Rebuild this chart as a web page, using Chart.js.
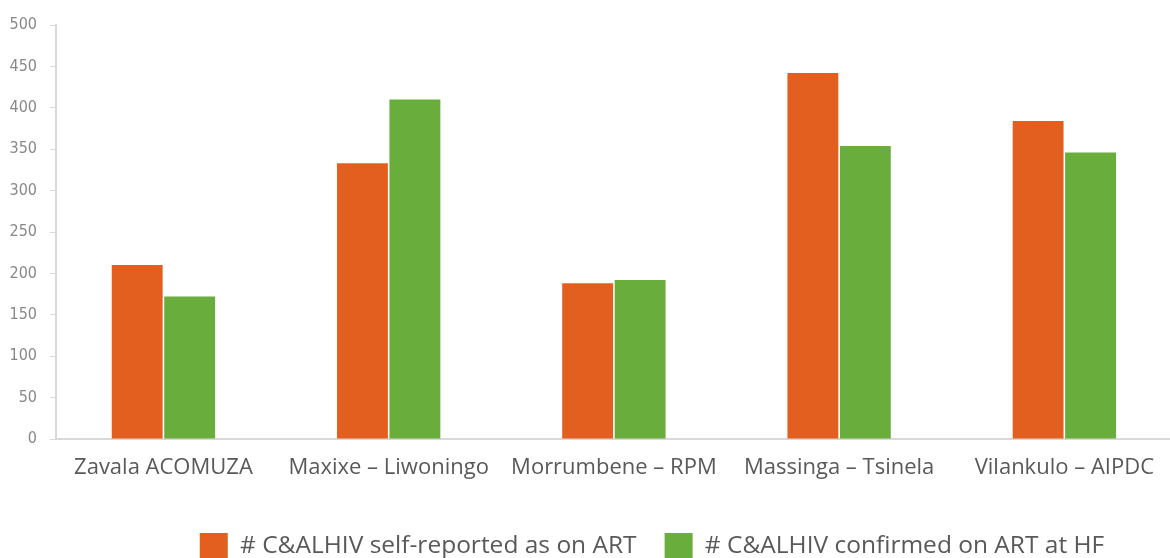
<!DOCTYPE html>
<html>
<head>
<meta charset="utf-8">
<script src="https://cdn.jsdelivr.net/npm/chart.js@4/dist/chart.umd.min.js"></script>
<style>
  html, body { margin: 0; padding: 0; background: #ffffff; overflow: hidden; }
  #wrap { width: 1170px; height: 558px; position: relative; }
</style>
</head>
<body>
<div id="wrap"><canvas id="c" width="1170" height="558"></canvas></div>
<script>
const categories = ["Zavala ACOMUZA", "Maxixe – Liwoningo", "Morrumbene – RPM", "Massinga – Tsinela", "Vilankulo – AIPDC"];
const seriesNames = ["# C&ALHIV self-reported as on ART", "# C&ALHIV confirmed on ART at HF"];
const selfReported = [210, 333, 188, 442, 384];
const confirmedHF = [172, 410, 192, 354, 346];
const yTicks = [0, 50, 100, 150, 200, 250, 300, 350, 400, 450, 500];

const toPoints = arr => arr.map((v, i) => ({ x: i, y: v }));

// shift the legend block to the right, as in the original layout
const legendShift = {
  id: 'legendShift',
  afterLayout(chart) { if (chart.legend) { chart.legend.left += 134; } }
};

new Chart(document.getElementById('c'), {
  type: 'bar',
  plugins: [legendShift],
  data: {
    datasets: [
      { label: seriesNames[0], data: toPoints(selfReported), backgroundColor: '#E35F20', borderWidth: 0,
        categoryPercentage: 0.466, barPercentage: 0.97 },
      { label: seriesNames[1], data: toPoints(confirmedHF), backgroundColor: '#69AD3D', borderWidth: 0,
        categoryPercentage: 0.466, barPercentage: 0.97 }
    ]
  },
  options: {
    responsive: false,
    animation: false,
    layout: { padding: { top: 25, right: 0, left: 0, bottom: -11 } },
    plugins: {
      tooltip: { enabled: false },
      legend: {
        position: 'bottom',
        labels: {
          boxWidth: 28, boxHeight: 26, padding: 28,
          color: '#595959',
          font: { family: "'Open Sans', 'DejaVu Sans', sans-serif", size: 24.5 }
        }
      }
    },
    scales: {
      x: {
        type: 'linear',
        offset: false,
        min: -0.477, max: 4.467,
        afterBuildTicks: s => { s.ticks = categories.map((c, i) => ({ value: i })); },
        afterFit: s => { s.height = 66; },
        grid: { display: false, drawTicks: false, offset: false },
        border: { display: true, color: '#d9d9d9', width: 2 },
        ticks: {
          padding: 16,
          autoSkip: false, maxRotation: 0,
          color: '#595959',
          font: { family: "'Open Sans', 'DejaVu Sans', sans-serif", size: 22 },
          callback: v => categories[v]
        }
      },
      y: {
        min: 0, max: 500,
        afterBuildTicks: s => { s.ticks = yTicks.map(v => ({ value: v })); },
        afterFit: s => { s.width = 56; },
        grid: { display: true, drawOnChartArea: false, drawTicks: true, tickLength: 6, color: '#d9d9d9', lineWidth: 1 },
        border: { display: true, color: '#d9d9d9', width: 2 },
        ticks: {
          padding: 13,
          color: '#888888',
          font: { family: "'Liberation Sans Narrow', 'DejaVu Sans Condensed', sans-serif", size: 16 }
        }
      }
    }
  }
});
</script>
</body>
</html>
